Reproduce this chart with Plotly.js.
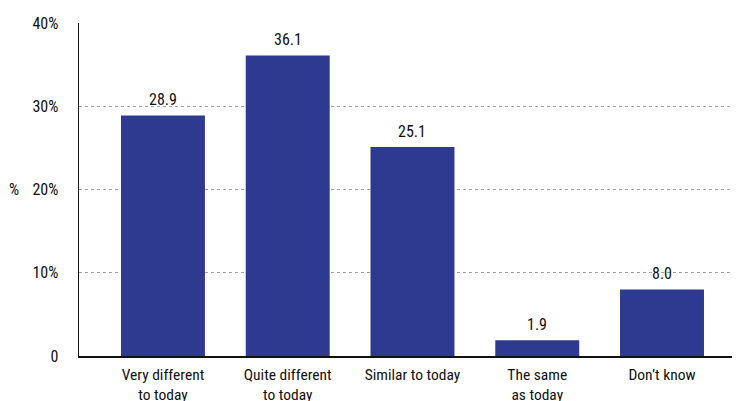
<!DOCTYPE html>
<html><head><meta charset="utf-8">
<script src="https://cdn.plot.ly/plotly-3.0.1.min.js"></script>
<style>body{margin:0;background:#fff}#chart{width:742px;height:401px}</style>
</head><body><div id="chart"></div>
<script>
var categories = ["Very different<br>to today", "Quite different<br>to today", "Similar to today", "The same<br>as today", "Don’t know"];
var values = [28.9, 36.1, 25.1, 1.9, 8.0];
var labels = ["28.9", "36.1", "25.1", "1.9", "8.0"];
var tickVals = [0, 10, 20, 30, 40];
var tickText = ["0", "10%", "20%", "30%", "40%"];
var yTitle = "%";

var FONT = "'Liberation Sans Narrow', 'Roboto Condensed', 'Arial Narrow', sans-serif";
var idx = categories.map(function(_, i){ return i; });

var trace = {
  type: "bar",
  x: idx,
  y: values,
  width: 0.673,
  marker: {color: "#2e3a8f"},
  hoverinfo: "none"
};

var annotations = values.map(function(v, i){
  return {x: idx[i], y: v, text: labels[i], showarrow: false, yanchor: "bottom", yshift: 4,
          font: {family: FONT, size: 16, color: "#111"}};
});
annotations.push({xref: "paper", yref: "paper", x: -0.1, y: 0.5, xanchor: "center", yanchor: "middle",
  text: yTitle, showarrow: false, font: {family: FONT, size: 16, color: "#111"}});

var layout = {
  width: 742, height: 401,
  margin: {l: 79, r: 10, t: 23, b: 45},
  paper_bgcolor: "#fff", plot_bgcolor: "#fff",
  showlegend: false,
  font: {family: FONT, size: 16, color: "#111"},
  xaxis: {
    tickmode: "array", tickvals: idx, ticktext: categories,
    range: [-0.673, 4.561],
    showline: true, linecolor: "#111", linewidth: 1.5,
    ticks: "", showgrid: false, zeroline: false,
    ticklabelstandoff: 4,
    tickfont: {family: FONT, size: 15.5, color: "#111"}
  },
  yaxis: {
    range: [0, 40],
    tickmode: "array", tickvals: tickVals, ticktext: tickText,
    showline: true, linecolor: "#111", linewidth: 1.5,
    ticks: "", zeroline: false,
    showgrid: true, gridcolor: "#a0a0a0", griddash: "3px,3px", gridwidth: 1,
    ticklabelstandoff: 16,
    tickfont: {family: FONT, size: 16, color: "#111"}
  },
  annotations: annotations
};

Plotly.newPlot("chart", [trace], layout, {displayModeBar: false, staticPlot: true});
</script></body></html>
